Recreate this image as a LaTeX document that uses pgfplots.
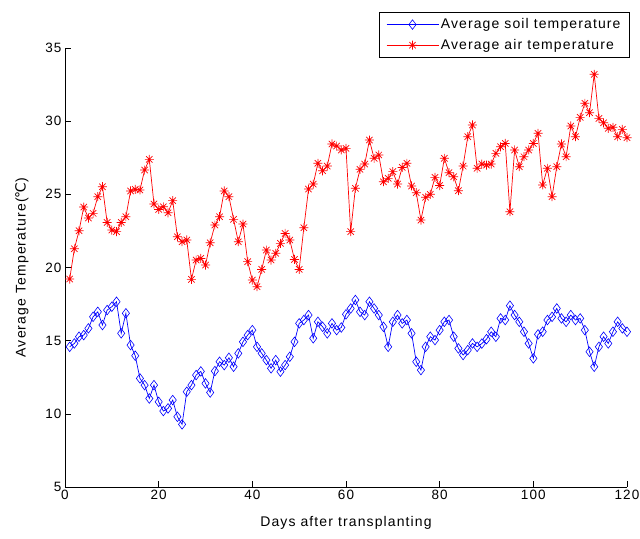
\documentclass[border=0pt]{standalone}
\usepackage{fontspec}
\setmainfont{Liberation Sans}[LetterSpace=8]
\newfontfamily\dejavu{DejaVu Sans}[LetterSpace=8]
\usepackage{pgfplots}
\pgfplotsset{compat=1.18}
\usepackage{pgfplotstable}

\pgfdeclareplotmark{mstar}{%
  \pgfpathmoveto{\pgfqpoint{0pt}{\pgfplotmarksize}}\pgfpathlineto{\pgfqpoint{0pt}{-\pgfplotmarksize}}%
  \pgfpathmoveto{\pgfqpoint{\pgfplotmarksize}{0pt}}\pgfpathlineto{\pgfqpoint{-\pgfplotmarksize}{0pt}}%
  \pgfpathmoveto{\pgfqpoint{0.707\pgfplotmarksize}{0.707\pgfplotmarksize}}\pgfpathlineto{\pgfqpoint{-0.707\pgfplotmarksize}{-0.707\pgfplotmarksize}}%
  \pgfpathmoveto{\pgfqpoint{0.707\pgfplotmarksize}{-0.707\pgfplotmarksize}}\pgfpathlineto{\pgfqpoint{-0.707\pgfplotmarksize}{0.707\pgfplotmarksize}}%
  \pgfusepathqstroke}

\pgfplotstableread{
d soil air
1 14.58 19.21
2 14.81 21.28
3 15.27 22.51
4 15.38 24.13
5 15.84 23.38
6 16.63 23.70
7 16.97 24.84
8 16.07 25.52
9 17.09 23.08
10 17.32 22.56
11 17.66 22.45
12 15.50 23.08
13 16.87 23.47
14 14.70 25.23
15 13.97 25.34
16 12.42 25.30
17 11.96 26.66
18 11.05 27.39
19 11.96 24.34
20 10.82 23.97
21 10.19 24.15
22 10.37 23.74
23 10.94 24.57
24 9.80 22.10
25 9.28 21.76
26 11.51 21.88
27 11.96 19.19
28 12.65 20.51
29 12.90 20.62
30 12.08 20.17
31 11.46 21.69
32 12.92 22.90
33 13.56 23.47
34 13.33 25.23
35 13.83 24.84
36 13.22 23.29
37 14.13 21.76
38 14.92 22.97
39 15.38 20.40
40 15.72 19.14
41 14.58 18.69
42 14.13 19.87
43 13.67 21.19
44 13.11 20.51
45 13.67 20.97
46 12.88 21.65
47 13.33 22.33
48 13.90 21.88
49 14.92 20.55
50 16.18 19.87
51 16.41 22.72
52 16.75 25.36
53 15.16 25.70
54 16.29 27.12
55 15.95 26.61
56 15.50 26.93
57 16.18 28.44
58 15.72 28.30
59 15.90 28.03
60 16.80 28.14
61 17.20 22.45
62 17.78 25.41
63 16.97 26.71
64 16.75 27.07
65 17.66 28.71
66 17.20 27.46
67 16.75 27.69
68 15.95 25.86
69 14.58 26.09
70 16.29 26.55
71 16.75 25.70
72 16.18 26.84
73 16.41 27.12
74 15.50 25.57
75 13.56 25.11
76 12.99 23.24
77 14.58 24.80
78 15.27 25.00
79 15.04 26.16
80 15.72 25.60
81 16.29 27.46
82 16.41 26.48
83 15.27 26.20
84 14.47 25.25
85 14.02 26.93
86 14.36 28.94
87 14.81 29.74
88 14.58 26.78
89 14.80 27.07
90 15.10 27.00
91 15.61 27.07
92 15.27 27.80
93 16.52 28.25
94 16.41 28.48
95 17.39 23.81
96 16.75 28.03
97 16.29 26.89
98 15.61 27.57
99 14.81 28.03
100 13.79 28.48
101 15.43 29.17
102 15.61 25.64
103 16.41 26.78
104 16.63 24.84
105 17.20 26.89
106 16.52 28.44
107 16.29 27.57
108 16.75 29.67
109 16.41 28.94
110 16.52 30.26
111 15.72 31.22
112 14.24 30.58
113 13.22 33.20
114 14.58 30.19
115 15.27 29.89
116 14.81 29.51
117 15.61 29.58
118 16.29 28.94
119 15.84 29.44
120 15.61 28.87
}\datatable

\begin{document}
\begin{tikzpicture}
\useasboundingbox (-65bp,-52bp) rectangle (575bp,487bp);
\begin{axis}[
  at={(0,0)}, anchor=south west,
  scale only axis, width=562bp, height=439bp,
  xmin=0, xmax=120, ymin=5, ymax=35,
  xtick={0,20,...,120}, ytick={5,10,...,35},
  axis x line*=bottom, axis y line*=left,
  axis line style={-, line width=0.6bp},
  tick align=inside, major tick length=6bp,
  tick style={black, line width=0.6bp},
  font=\fontsize{14bp}{16bp}\selectfont,
  tick label style={font=\fontsize{13.5bp}{15bp}\selectfont},
  /pgf/number format/assume math mode=true,
  xlabel={Days after transplanting},
  ylabel={Average Temperature({\dejavu ℃})},
  every axis x label/.style={at={(axis description cs:0.5,-0.082)}, anchor=center},
  every axis y label/.style={at={(axis description cs:-0.0765,0.5)}, rotate=90, anchor=center},
  legend style={at={(rel axis cs:1.005,1.082)}, anchor=north east,
    draw=black, line width=0.6bp, fill=white, font=\fontsize{14bp}{16bp}\selectfont,
    inner xsep=7bp, inner ysep=4.5bp, row sep=5bp},
  legend cell align=left,
  legend image code/.code={\draw[mark repeat=2,mark phase=2,#1] plot coordinates {(0bp,0bp) (26bp,0bp) (52bp,0bp)};},
]
\addplot[blue, line width=0.7bp, mark=diamond, mark size=4.8bp, mark options={solid, line width=0.6bp}] table[x=d, y=soil] {\datatable};
\addlegendentry{Average soil temperature}
\addplot[red, line width=0.7bp, mark=mstar, mark size=4.5bp, mark options={solid, line width=0.7bp}] table[x=d, y=air] {\datatable};
\addlegendentry{Average air temperature}
\end{axis}
\end{tikzpicture}
\end{document}
